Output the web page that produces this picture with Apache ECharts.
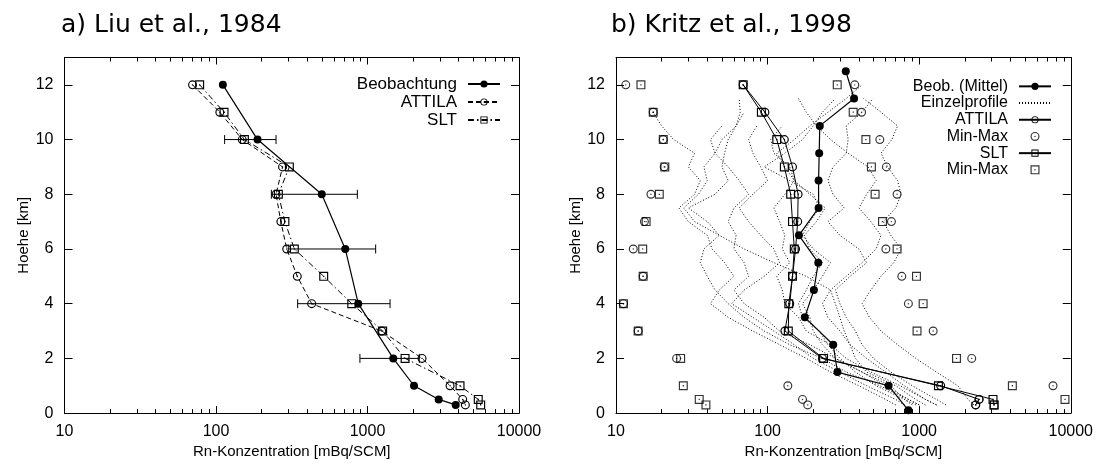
<!DOCTYPE html>
<html><head><meta charset="utf-8">
<script src="https://cdn.jsdelivr.net/npm/echarts@6/dist/echarts.min.js"></script>
<style>html,body{margin:0;padding:0;background:#fff}#c{width:1096px;height:464px}</style>
</head><body><div id="c"></div>
<script>
// ---------- tick labels ----------
const xTickValues = [10, 100, 1000, 10000];
const xMinorTicks = [20,30,40,50,60,70,80,90,200,300,400,500,600,700,800,900,2000,3000,4000,5000,6000,7000,8000,9000];
const yTickValues = [0, 2, 4, 6, 8, 10, 12];

// ---------- panel a: Liu et al., 1984 ----------
const aObsHeight = [12, 10, 8, 6, 4, 2, 1, 0.5, 0.3];
const aObsValue  = [111, 188, 499, 713, 869, 1479, 2028, 2951, 3820];
const aErrHeight = [10, 8, 6, 4, 2];
const aErrLow    = [114, 232, 300, 346, 891];
const aErrHigh   = [249, 857, 1132, 1409, 2198];
const aModelHeight = [12, 11, 10, 9, 8, 7, 6, 5, 4, 3, 2, 1, 0.5, 0.3];
const aAttila = [70, 106, 149, 275, 249, 268, 293, 344, 428, 1241, 2291, 3508, 4249, 4425];
const aSlt    = [78, 113, 154, 305, 258, 285, 329, 514, 787, 1259, 1770, 4081, 5383, 5586];

// ---------- panel b: Kritz et al., 1998 ----------
const bObsHeight = [12.5, 11.5, 10.5, 9.5, 8.5, 7.5, 6.5, 5.5, 4.5, 3.5, 2.5, 1.5, 1, 0.1];
const bObsValue  = [328, 372, 221, 219, 217, 217, 161, 216, 202, 176, 271, 289, 628, 849];
const bModelHeight = [12, 11, 10, 9, 8, 7, 6, 5, 4, 3, 2, 1, 0.5, 0.3];
const bAttila    = [69, 96, 129, 146, 159, 158, 153, 146, 140, 130, 230, 1387, 2484, 2360];
const bAttilaMin = [11.6, 17.6, 20.5, 20.8, 17.0, 15.4, 13.0, 15.1, 11.2, 14.0, 25.1, 136, 170, 184];
const bAttilaMax = [376, 417, 550, 608, 715, 656, 603, 768, 849, 1237, 2222, 7640, 2484, 2360];
const bSlt       = [69, 91, 115, 129, 142, 146, 150, 146, 138, 137, 234, 1340, 3070, 3120];
const bSltMin    = [14.6, 17.6, 20.5, 21, 19.3, 15.8, 15, 15.1, 11.2, 14.0, 26.7, 27.8, 35.4, 39.2];
const bSltMax    = [288, 367, 445, 484, 512, 573, 715, 960, 1062, 968, 1763, 4120, 9160, 3120];

// individual profiles (Einzelprofile), heights from bottom
const bProfileHeight = [0.3, 0.5, 1, 1.5, 2, 2.5, 3, 3.5, 4, 4.5, 5, 5.5, 6, 6.5, 7, 7.5, 8, 8.5, 9, 9.5, 10, 10.5, 11, 11.5, 12];
const profile1  = [700, 600, 400, 260, 180, 120, 80, 55, 42, 48, 60, 52, 43, 40, 30, 26, 33, 36, 30, 33, 24, 20, 17.5];
const profile2  = [1000, 850, 550, 330, 230, 140, 95, 70, 55, 45, 40, 36, 38, 48, 40, 30, 45, 55, 50, 52, 55, 62, 66, 65];
const profile3  = [900, 800, 650, 420, 280, 190, 120, 95, 70, 60, 75, 70, 60, 62, 55, 60, 75, 65, 55, 45, 50, 62, 70];
const profile4  = [1300, 1100, 750, 480, 330, 260, 180, 160, 130, 125, 115, 140, 125, 130, 120, 110, 130, 150, 140, 110, 105, 125];
const profile5  = [950, 800, 520, 380, 300, 250, 220, 170, 160, 180, 200, 230, 190, 175, 210, 240, 190, 150, 130, 115, 150, 190, 250, 330, 420];
const profile6  = [1500, 1300, 900, 650, 500, 420, 380, 330, 300, 280, 350, 450, 400, 300, 250, 320, 270, 250, 270, 330, 340, 330, 420, 495];
const profile7  = [2300, 2100, 1800, 1300, 950, 720, 560, 470, 420, 480, 560, 680, 760, 650, 580, 700, 760, 720, 620, 560, 660, 720, 560, 430];
const profile8  = [1100, 950, 700, 450, 380, 350, 300, 250, 230, 260, 330, 420, 520, 560, 480, 400, 450, 520, 460, 340, 260, 210, 180, 160];
const profile9  = [1000, 850, 600, 420, 280, 230, 200, 190, 170, 200, 230, 260, 200, 170, 190, 220, 200, 140, 95, 130, 170, 200, 230, 280];
const profile10 = [800, 700, 450, 300, 200, 150, 110, 80, 58, 70, 95, 120, 110, 90, 75, 65, 80, 100, 90, 80, 75, 85];
const profile11 = [1300, 1100, 800, 600, 450, 350, 320, 300, 280, 260, 180, 110, 70, 48, 33, 28, 35, 40, 38, 45, 42, 50];
const profiles = [profile1, profile2, profile3, profile4, profile5, profile6, profile7, profile8, profile9, profile10, profile11];

// ---------- styling ----------
const FONT = 'Liberation Sans';
const TITLE_FONT = 'DejaVu Sans';
const BLACK = '#000';
// open circle with centre dot, open square with centre dot (gnuplot style)
const OPEN_CIRCLE = 'path://M0,50 A50,50 0 1,1 100,50 A50,50 0 1,1 0,50 Z M13,50 A37,37 0 1,0 87,50 A37,37 0 1,0 13,50 Z M42,50 A8,8 0 1,1 58,50 A8,8 0 1,1 42,50 Z';
const OPEN_SQUARE = 'path://M0,0 L100,0 L100,100 L0,100 Z M13,13 L13,87 L87,87 L87,13 Z M43,43 L57,43 L57,57 L43,57 Z';

const pairs = (xs, ys) => xs.map((v, i) => [v, ys[i]]);

const grids = [
  {left: 64.5, top: 57.5, width: 454.5, height: 359},
  {left: 616, top: 57.5, width: 455, height: 359}
];

function xAxesFor(g) {
  const base = {type: 'log', logBase: 10, min: 10, max: 10000, gridIndex: g, splitLine: {show: false}};
  return [
    Object.assign({}, base, {
      position: 'bottom',
      axisLine: {show: true, lineStyle: {color: BLACK, width: 1}},
      axisTick: {show: true, inside: true, length: 7, customValues: xTickValues, lineStyle: {color: BLACK}},
      axisLabel: {customValues: xTickValues, color: BLACK, fontSize: 16, fontFamily: FONT, margin: 10,
                  formatter: v => String(Math.round(v))},
      name: 'Rn-Konzentration [mBq/SCM]', nameLocation: 'middle', nameGap: 26,
      nameTextStyle: {color: BLACK, fontSize: 15, fontFamily: FONT}
    }),
    Object.assign({}, base, {
      position: 'bottom', axisLine: {show: false},
      axisTick: {show: true, inside: true, length: 4, customValues: xMinorTicks, lineStyle: {color: BLACK}},
      axisLabel: {show: false}
    }),
    Object.assign({}, base, {
      position: 'top', axisLine: {show: true, lineStyle: {color: BLACK, width: 1}},
      axisTick: {show: true, inside: true, length: 7, customValues: xTickValues, lineStyle: {color: BLACK}},
      axisLabel: {show: false}
    }),
    Object.assign({}, base, {
      position: 'top', axisLine: {show: false},
      axisTick: {show: true, inside: true, length: 4, customValues: xMinorTicks, lineStyle: {color: BLACK}},
      axisLabel: {show: false}
    })
  ];
}
function yAxesFor(g) {
  const base = {type: 'value', min: 0, max: 13, gridIndex: g, splitLine: {show: false}};
  return [
    Object.assign({}, base, {
      position: 'left',
      axisLine: {show: true, lineStyle: {color: BLACK, width: 1}},
      axisTick: {show: true, inside: true, length: 8, customValues: yTickValues, lineStyle: {color: BLACK}},
      axisLabel: {customValues: yTickValues, color: BLACK, fontSize: 16, fontFamily: FONT, margin: 11},
      name: 'Hoehe [km]', nameLocation: 'middle', nameGap: 30, nameRotate: 90,
      nameTextStyle: {color: BLACK, fontSize: 15, fontFamily: FONT}
    }),
    Object.assign({}, base, {
      position: 'right',
      axisLine: {show: true, lineStyle: {color: BLACK, width: 1}},
      axisTick: {show: true, inside: true, length: 8, customValues: yTickValues, lineStyle: {color: BLACK}},
      axisLabel: {show: false}
    })
  ];
}

const xAxis = xAxesFor(0).concat(xAxesFor(1));
const yAxis = yAxesFor(0).concat(yAxesFor(1));
const AX = {xAxisIndex: 0, yAxisIndex: 0};
const BX = {xAxisIndex: 4, yAxisIndex: 2};

const series = [];

// ----- panel a -----
series.push(Object.assign({
  name: 'errbars', type: 'custom',
  data: aErrHeight.map((h, i) => [aErrLow[i], aErrHigh[i], h]),
  encode: {x: [0, 1], y: 2},
  renderItem: function (params, api) {
    const p1 = api.coord([api.value(0), api.value(2)]);
    const p2 = api.coord([api.value(1), api.value(2)]);
    const c = 4.5;
    const st = {stroke: BLACK, lineWidth: 1};
    return {type: 'group', children: [
      {type: 'line', shape: {x1: p1[0], y1: p1[1], x2: p2[0], y2: p2[1]}, style: st},
      {type: 'line', shape: {x1: p1[0], y1: p1[1] - c, x2: p1[0], y2: p1[1] + c}, style: st},
      {type: 'line', shape: {x1: p2[0], y1: p2[1] - c, x2: p2[0], y2: p2[1] + c}, style: st}
    ]};
  },
  z: 2
}, AX));
series.push(Object.assign({
  name: 'ATTILA_a', type: 'line', data: pairs(aAttila, aModelHeight),
  symbol: OPEN_CIRCLE, symbolSize: 9, showSymbol: true,
  lineStyle: {color: BLACK, width: 1, type: [5, 3]},
  itemStyle: {color: BLACK}, z: 3, animation: false
}, AX));
series.push(Object.assign({
  name: 'SLT_a', type: 'line', data: pairs(aSlt, aModelHeight),
  symbol: OPEN_SQUARE, symbolSize: 9, showSymbol: true,
  lineStyle: {color: BLACK, width: 1, type: [6, 3, 1.5, 3]},
  itemStyle: {color: BLACK}, z: 3, animation: false
}, AX));
series.push(Object.assign({
  name: 'Beobachtung', type: 'line', data: pairs(aObsValue, aObsHeight),
  symbol: 'circle', symbolSize: 8, showSymbol: true,
  lineStyle: {color: BLACK, width: 1.2},
  itemStyle: {color: BLACK}, z: 4, animation: false
}, AX));

// ----- panel b -----
profiles.forEach(function (p) {
  series.push(Object.assign({
    name: 'Einzelprofile', type: 'line', data: pairs(p, bProfileHeight.slice(0, p.length)),
    symbol: 'none', showSymbol: false,
    lineStyle: {color: '#000', width: 1, type: [1, 2]},
    itemStyle: {color: '#000'}, z: 1, animation: false
  }, BX));
});
series.push(Object.assign({
  name: 'ATTILA_b', type: 'line', data: pairs(bAttila, bModelHeight),
  symbol: OPEN_CIRCLE, symbolSize: 9, showSymbol: true,
  lineStyle: {color: BLACK, width: 1},
  itemStyle: {color: BLACK}, z: 3, animation: false
}, BX));
series.push(Object.assign({
  name: 'Min-Max_c', type: 'scatter', data: pairs(bAttilaMin, bModelHeight).concat(pairs(bAttilaMax, bModelHeight)),
  symbol: OPEN_CIRCLE, symbolSize: 9,
  itemStyle: {color: BLACK}, z: 3, animation: false
}, BX));
series.push(Object.assign({
  name: 'SLT_b', type: 'line', data: pairs(bSlt, bModelHeight),
  symbol: OPEN_SQUARE, symbolSize: 9, showSymbol: true,
  lineStyle: {color: BLACK, width: 1},
  itemStyle: {color: BLACK}, z: 3, animation: false
}, BX));
series.push(Object.assign({
  name: 'Min-Max_s', type: 'scatter', data: pairs(bSltMin, bModelHeight).concat(pairs(bSltMax, bModelHeight)),
  symbol: OPEN_SQUARE, symbolSize: 9,
  itemStyle: {color: BLACK}, z: 3, animation: false
}, BX));
series.push(Object.assign({
  name: 'Beob. (Mittel)', type: 'line', data: pairs(bObsValue, bObsHeight),
  symbol: 'circle', symbolSize: 8, showSymbol: true,
  lineStyle: {color: BLACK, width: 1.2},
  itemStyle: {color: BLACK}, z: 4, animation: false
}, BX));

const legendCommon = {
  orient: 'vertical', align: 'right', itemWidth: 32, itemHeight: 9, itemGap: 0, padding: 0,
  selectedMode: false, inactiveColor: BLACK,
  formatter: n => n.replace(/_.*$/, ''),
  textStyle: {color: BLACK, fontSize: 17, fontFamily: FONT, padding: [0, 6, 0, 0], lineHeight: 18}
};

const option = {
  animation: false,
  backgroundColor: '#fff',
  title: [
    {text: 'a) Liu et al., 1984', left: 56, top: 8, textStyle: {fontFamily: TITLE_FONT, fontWeight: 'normal', fontSize: 25, color: BLACK}},
    {text: 'b) Kritz et al., 1998', left: 606, top: 8, textStyle: {fontFamily: TITLE_FONT, fontWeight: 'normal', fontSize: 25, color: BLACK}}
  ],
  legend: [
    Object.assign({}, legendCommon, {data: ['Beobachtung', 'ATTILA_a', 'SLT_a'], right: 1096 - 501, top: 75}),
    Object.assign({}, legendCommon, {
      data: ['Beob. (Mittel)', {name: 'Einzelprofile', itemStyle: {color: 'rgba(0,0,0,0)', borderWidth: 0, opacity: 0}}, 'ATTILA_b', 'Min-Max_c', 'SLT_b', 'Min-Max_s'],
      right: 1096 - 1052, top: 78,
      textStyle: Object.assign({}, legendCommon.textStyle, {fontSize: 16, lineHeight: 16.7})})
  ],
  grid: grids,
  xAxis: xAxis,
  yAxis: yAxis,
  series: series
};

const chart = echarts.init(document.getElementById('c'), null, {renderer: 'canvas'});
chart.setOption(option);
</script>
</body></html>
